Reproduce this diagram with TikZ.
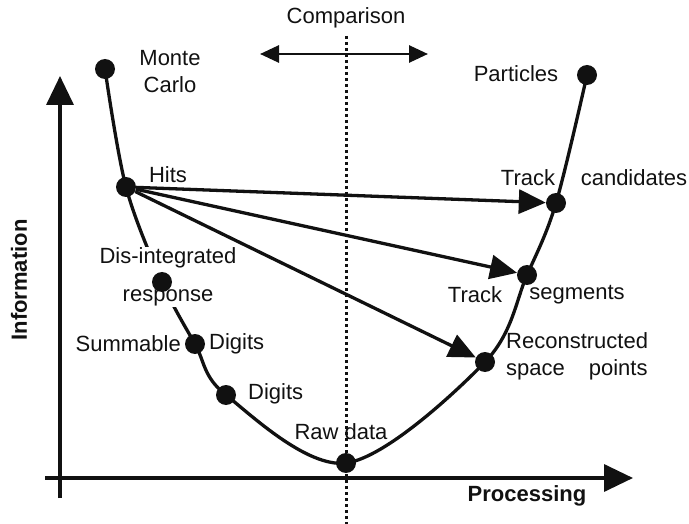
\documentclass[tikz,border=0pt]{standalone}
\usepackage{fontspec}
\setmainfont{Liberation Sans}
\usetikzlibrary{arrows.meta, positioning, calc}
\definecolor{ink}{HTML}{111111}
\tikzset{
  lbl/.style      = {font=\fontsize{22}{27}\selectfont, text=ink, inner sep=1pt, align=center},
  axlbl/.style    = {font=\fontsize{22}{27}\selectfont\bfseries, text=ink, inner sep=1pt},
  dot/.style      = {circle, fill=ink, inner sep=0pt, minimum size=20pt},
  axis/.style     = {draw=ink, line width=3.5pt, -{Triangle[length=29pt, width=27pt]}},
  curve/.style    = {draw=ink, line width=3.3pt},
  flow/.style     = {draw=ink, line width=3.3pt, -{Triangle[length=27pt, width=24pt]}},
  cmp/.style      = {draw=ink, line width=2.8pt, {Triangle[length=19pt, width=17pt]}-{Triangle[length=19pt, width=17pt]}},
  divider/.style  = {draw=ink, line width=3pt, dash pattern=on 3pt off 3pt},
}

\begin{document}
\begin{tikzpicture}[x=1pt, y=-1pt]
  \useasboundingbox (0,0) rectangle (689,524);

  % axes
  \coordinate (ytop) at (60,76);
  \coordinate (xend) at (633,478);
  \coordinate (ybot) at (60,498);
  \coordinate (xbeg) at (45,478);
  \draw[axis] (ybot) -- (ytop);
  \draw[axis] (xbeg) -- (xend);
  \node[axlbl, rotate=90] (info) at (19,280) {Information};
  \node[axlbl] (proc) at (527,496) {Processing};

  % comparison line
  \coordinate (divtop) at (346,36);
  \coordinate (divbot) at (346,524);
  \draw[divider] (divtop) -- (divbot);
  \coordinate (cmpl) at (260,54);
  \coordinate (cmpr) at (428,54);
  \draw[cmp] (cmpl) -- (cmpr);
  \node[lbl] (cmptxt) at (346,18) {Comparison};

  % points on the curve
  \coordinate (mc) at (105,69);
  \coordinate (hits) at (126,187);
  \coordinate (dis) at (162,282);
  \coordinate (summ) at (195,344);
  \coordinate (dig) at (226,395);
  \coordinate (raw) at (346,463);
  \coordinate (recon) at (485,362);
  \coordinate (seg) at (527,275);
  \coordinate (cand) at (556,203);
  \coordinate (part) at (587,75);

  \draw[curve] plot[smooth, tension=0.55] coordinates {(mc) (hits) (dis) (summ) (dig) (raw) (recon) (seg) (cand) (part)};

  % labels
  \node[lbl] (mctxt) at (170,72) {Monte\\Carlo};
  \node[lbl] (parttxt) at (516,74) {Particles};
  \node[lbl] (hitstxt) at (168,175) {Hits};
  \node[lbl] (candtxt1) at (528,178) {Track};
  \node[lbl] (candtxt2) at (634,178) {candidates};
  \node[lbl, fill=white] (distxt) at (168,277) {Dis-integrated\\[11pt]response};
  \node[lbl, anchor=east] (summtxt1) at (182,344) {Summable};
  \node[lbl, anchor=west] (summtxt2) at (208,344) {Digits};
  \node[lbl, anchor=west] (digtxt) at (247,394) {Digits};
  \node[lbl] (rawtxt) at (341,432) {Raw data};
  \node[lbl] (segtxt1) at (475,295) {Track};
  \node[lbl] (segtxt2) at (577,295) {segments};
  \node[lbl, anchor=west, align=left] (recontxt) at (505,356) {Reconstructed\\space\hspace{24pt}points};

  % dots
  \foreach \p in {mc, hits, dis, summ, dig, raw, recon, seg, cand, part}
    \node[dot] (d-\p) at (\p) {};

  % hits to reconstruction
  \draw[flow] (d-hits) -- (d-cand);
  \draw[flow] (d-hits) -- (d-seg);
  \draw[flow] (d-hits) -- (d-recon);
\end{tikzpicture}
\end{document}
